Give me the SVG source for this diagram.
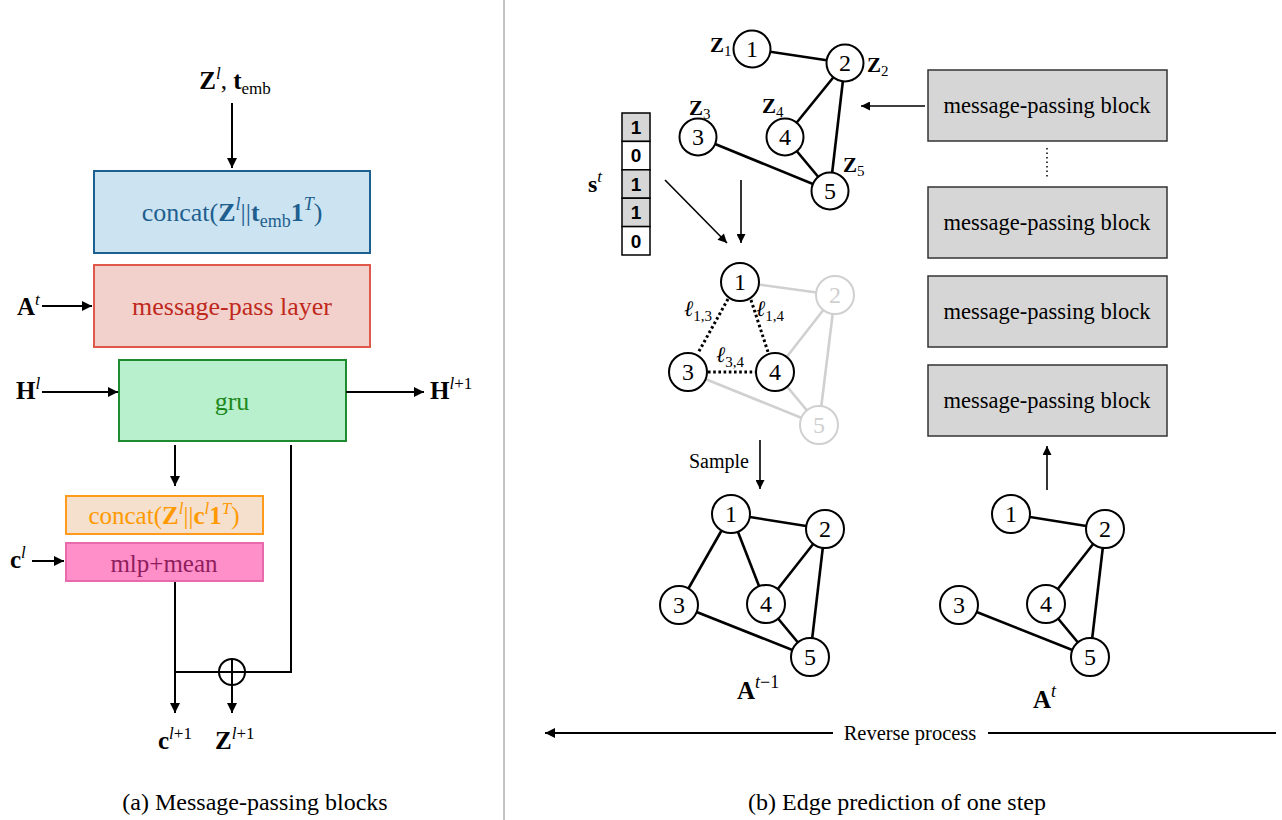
<svg xmlns="http://www.w3.org/2000/svg" width="1282" height="820" viewBox="0 0 1282 820">
<style>
.t{font-family:"Liberation Serif","Times New Roman",serif;fill:#000}
.b{font-weight:bold}
.i{font-style:italic}
.ln{stroke:#000;stroke-width:2;fill:none}
.ln2{stroke:#000;stroke-width:1.6;fill:none}
.e{stroke:#000;stroke-width:2.6}
.eg{stroke:#d0d0d0;stroke-width:2.6}
.ed{stroke:#000;stroke-width:3;stroke-dasharray:2.6 2.6}
.nd{fill:#fff;stroke:#000;stroke-width:2}
.ndg{fill:#fff;stroke:#d0d0d0;stroke-width:2}
.nt{font-family:"Liberation Serif","Times New Roman",serif;font-size:24px;text-anchor:middle}
.mp{fill:#d6d6d6;stroke:#333;stroke-width:1.5}
.vc{font-family:"Liberation Sans",Arial,sans-serif;font-weight:bold;font-size:19px;text-anchor:middle}
</style>
<defs>
<marker id="ah" viewBox="0 0 10 10" refX="10" refY="5" markerWidth="12" markerHeight="10" markerUnits="userSpaceOnUse" orient="auto"><path d="M0,0 L10,5 L0,10 z" fill="#000"/></marker>
<marker id="ahs" viewBox="0 0 10 10" refX="10" refY="5" markerWidth="11" markerHeight="9" markerUnits="userSpaceOnUse" orient="auto"><path d="M0,0 L10,5 L0,10 z" fill="#000"/></marker>
</defs>

<!-- divider -->
<line x1="504" y1="0" x2="504" y2="820" stroke="#888" stroke-width="1"/>

<!-- ===== Left panel ===== -->
<text class="t" x="235" y="89" font-size="25" text-anchor="middle"><tspan class="b">Z</tspan><tspan class="i" font-size="17" dy="-10">l</tspan><tspan dy="10">, </tspan><tspan class="b">t</tspan><tspan font-size="17" dy="5">emb</tspan></text>

<g id="concat1">
<rect x="94" y="171" width="276" height="82" fill="#cce4f1" stroke="#1d5f8e" stroke-width="2"/>
<text class="t" x="232" y="221" font-size="26" text-anchor="middle" style="fill:#1f5f8f">concat(<tspan class="b">Z</tspan><tspan class="i" font-size="18" dy="-11">l</tspan><tspan dy="11">||</tspan><tspan class="b">t</tspan><tspan font-size="18" dy="6">emb</tspan><tspan class="b" dy="-6">1</tspan><tspan class="i" font-size="18" dy="-11">T</tspan><tspan dy="11">)</tspan></text>
</g>

<g id="mpl">
<rect x="94" y="265" width="276" height="82" fill="#f2d1cc" stroke="#e0584a" stroke-width="2"/>
<text class="t" x="232" y="315" font-size="26" text-anchor="middle" style="fill:#c0281c">message-pass layer</text>
</g>

<g id="gru">
<rect x="119" y="360" width="227" height="81" fill="#b8efcc" stroke="#1e8b2e" stroke-width="2"/>
<text class="t" x="232" y="410" font-size="26" text-anchor="middle" style="fill:#1e8a1e">gru</text>
</g>

<g id="concat2">
<rect x="66" y="496" width="197" height="38" fill="#f5dfcd" stroke="#ff9a1a" stroke-width="2"/>
<text class="t" x="164" y="524" font-size="25" text-anchor="middle" style="fill:#ff9a00">concat(<tspan class="b">Z</tspan><tspan class="i" font-size="17" dy="-10">l</tspan><tspan dy="10">||</tspan><tspan class="b">c</tspan><tspan class="i" font-size="17" dy="-10">l</tspan><tspan class="b" dy="10">1</tspan><tspan class="i" font-size="17" dy="-10">T</tspan><tspan dy="10">)</tspan></text>
</g>

<g id="mlp">
<rect x="66" y="543" width="197" height="38" fill="#ff8fc8" stroke="#e86aac" stroke-width="2"/>
<text class="t" x="164" y="572" font-size="25" text-anchor="middle" style="fill:#8e1d5e">mlp+mean</text>
</g>

<g id="plus">
<circle cx="232" cy="672" r="13" fill="#fff" stroke="#000" stroke-width="2"/>
<line x1="220" y1="672" x2="244" y2="672" stroke="#000" stroke-width="2"/>
<line x1="232" y1="660" x2="232" y2="684" stroke="#000" stroke-width="2"/>
</g>

<g id="left-labels">
<text class="t" x="17" y="315" font-size="25"><tspan class="b">A</tspan><tspan class="i" font-size="17" dy="-10">t</tspan></text>
<text class="t" x="16" y="399" font-size="25"><tspan class="b">H</tspan><tspan class="i" font-size="17" dy="-10">l</tspan></text>
<text class="t" x="430" y="399" font-size="25"><tspan class="b">H</tspan><tspan class="i" font-size="17" dy="-10">l</tspan><tspan font-size="17">+1</tspan></text>
<text class="t" x="10" y="568" font-size="25"><tspan class="b">c</tspan><tspan class="i" font-size="17" dy="-10">l</tspan></text>
<text class="t" x="158" y="749" font-size="25"><tspan class="b">c</tspan><tspan class="i" font-size="17" dy="-10">l</tspan><tspan font-size="17">+1</tspan></text>
<text class="t" x="215" y="749" font-size="25"><tspan class="b">Z</tspan><tspan class="i" font-size="17" dy="-10">l</tspan><tspan font-size="17">+1</tspan></text>
<text class="t" x="255" y="810" font-size="24" text-anchor="middle">(a) Message-passing blocks</text>
</g>

<g id="left-connectors">
<line class="ln" x1="232" y1="103" x2="232" y2="168" marker-end="url(#ah)"/>
<line class="ln" x1="42" y1="306" x2="92" y2="306" marker-end="url(#ah)"/>
<line class="ln" x1="42" y1="392" x2="118" y2="392" marker-end="url(#ah)"/>
<line class="ln" x1="346" y1="392" x2="424" y2="392" marker-end="url(#ah)"/>
<line class="ln" x1="175" y1="445" x2="175" y2="486" marker-end="url(#ah)"/>
<line class="ln" x1="32" y1="561" x2="64" y2="561" marker-end="url(#ah)"/>
<polyline class="ln" points="291,445 291,672 245,672"/>
<line class="ln" x1="175" y1="672" x2="219" y2="672"/>
<line class="ln" x1="175" y1="582" x2="175" y2="713" marker-end="url(#ah)"/>
<line class="ln" x1="232" y1="685" x2="232" y2="713" marker-end="url(#ah)"/>
</g>

<!-- ===== Right panel ===== -->
<g id="graph-top">
<line class="e" x1="752" y1="49" x2="845" y2="63"/>
<line class="e" x1="845" y1="63" x2="785" y2="137"/>
<line class="e" x1="845" y1="63" x2="830" y2="191"/>
<line class="e" x1="785" y1="137" x2="830" y2="191"/>
<line class="e" x1="698" y1="137" x2="830" y2="191"/>
<circle class="nd" cx="752" cy="49" r="18.5"/><text class="nt" x="752" y="57">1</text>
<circle class="nd" cx="845" cy="63" r="18.5"/><text class="nt" x="845" y="71">2</text>
<circle class="nd" cx="698" cy="137" r="18.5"/><text class="nt" x="698" y="145">3</text>
<circle class="nd" cx="785" cy="137" r="18.5"/><text class="nt" x="785" y="145">4</text>
<circle class="nd" cx="830" cy="191" r="18.5"/><text class="nt" x="830" y="199">5</text>
<text class="t" x="710" y="52" font-size="21"><tspan class="b">Z</tspan><tspan font-size="15" dy="4">1</tspan></text>
<text class="t" x="867" y="72" font-size="21"><tspan class="b">Z</tspan><tspan font-size="15" dy="4">2</tspan></text>
<text class="t" x="689" y="115" font-size="21"><tspan class="b">Z</tspan><tspan font-size="15" dy="4">3</tspan></text>
<text class="t" x="762" y="113" font-size="21"><tspan class="b">Z</tspan><tspan font-size="15" dy="4">4</tspan></text>
<text class="t" x="843" y="172" font-size="21"><tspan class="b">Z</tspan><tspan font-size="15" dy="4">5</tspan></text>
</g>

<g id="s-vector">
<rect x="622" y="113" width="28" height="28.4" fill="#d6d6d6" stroke="#000" stroke-width="1.5"/>
<rect x="622" y="141.4" width="28" height="28.4" fill="#fff" stroke="#000" stroke-width="1.5"/>
<rect x="622" y="169.8" width="28" height="28.4" fill="#d6d6d6" stroke="#000" stroke-width="1.5"/>
<rect x="622" y="198.2" width="28" height="28.4" fill="#d6d6d6" stroke="#000" stroke-width="1.5"/>
<rect x="622" y="226.6" width="28" height="28.4" fill="#fff" stroke="#000" stroke-width="1.5"/>
<text class="vc" x="636" y="134">1</text>
<text class="vc" x="636" y="162">0</text>
<text class="vc" x="636" y="191">1</text>
<text class="vc" x="636" y="219">1</text>
<text class="vc" x="636" y="248">0</text>
<text class="t" x="588" y="192" font-size="24"><tspan class="b">s</tspan><tspan class="i" font-size="17" dy="-10">t</tspan></text>
</g>

<g id="graph-mid">
<line class="eg" x1="740" y1="282" x2="835" y2="295"/>
<line class="eg" x1="835" y1="295" x2="775" y2="372"/>
<line class="eg" x1="835" y1="295" x2="819" y2="425"/>
<line class="eg" x1="775" y1="372" x2="819" y2="425"/>
<line class="eg" x1="688" y1="372" x2="819" y2="425"/>
<line class="ed" x1="728" y1="299" x2="698" y2="353"/>
<line class="ed" x1="751" y1="300" x2="768" y2="352"/>
<line class="ed" x1="708" y1="372" x2="756" y2="372"/>
<circle class="nd" cx="740" cy="282" r="19"/><text class="nt" x="740" y="290">1</text>
<circle class="ndg" cx="835" cy="295" r="19"/><text class="nt" x="835" y="303" fill="#d0d0d0">2</text>
<circle class="nd" cx="688" cy="372" r="19"/><text class="nt" x="688" y="380">3</text>
<circle class="nd" cx="775" cy="372" r="19"/><text class="nt" x="775" y="380">4</text>
<circle class="ndg" cx="819" cy="425" r="19"/><text class="nt" x="819" y="433" fill="#d0d0d0">5</text>
<text class="t i" x="684" y="316" font-size="22">ℓ<tspan font-style="normal" font-size="15" dy="5">1,3</tspan></text>
<text class="t i" x="756" y="316" font-size="22">ℓ<tspan font-style="normal" font-size="15" dy="5">1,4</tspan></text>
<text class="t i" x="716" y="362" font-size="22">ℓ<tspan font-style="normal" font-size="15" dy="5">3,4</tspan></text>
<text class="t" x="689" y="468" font-size="20">Sample</text>
</g>

<g id="graph-prev">
<line class="e" x1="731" y1="514" x2="825" y2="529"/>
<line class="e" x1="731" y1="514" x2="679" y2="605"/>
<line class="e" x1="731" y1="514" x2="766" y2="604"/>
<line class="e" x1="825" y1="529" x2="766" y2="604"/>
<line class="e" x1="825" y1="529" x2="810" y2="657"/>
<line class="e" x1="766" y1="604" x2="810" y2="657"/>
<line class="e" x1="679" y1="605" x2="810" y2="657"/>
<circle class="nd" cx="731" cy="514" r="19"/><text class="nt" x="731" y="522">1</text>
<circle class="nd" cx="825" cy="529" r="19"/><text class="nt" x="825" y="537">2</text>
<circle class="nd" cx="679" cy="605" r="19"/><text class="nt" x="679" y="613">3</text>
<circle class="nd" cx="766" cy="604" r="19"/><text class="nt" x="766" y="612">4</text>
<circle class="nd" cx="810" cy="657" r="19"/><text class="nt" x="810" y="665">5</text>
<text class="t" x="737" y="699" font-size="25"><tspan class="b">A</tspan><tspan class="i" font-size="18" dy="-11">t</tspan><tspan font-size="18">−1</tspan></text>
</g>

<g id="graph-cur">
<line class="e" x1="1011" y1="514" x2="1105" y2="529"/>
<line class="e" x1="1105" y1="529" x2="1046" y2="604"/>
<line class="e" x1="1105" y1="529" x2="1090" y2="657"/>
<line class="e" x1="1046" y1="604" x2="1090" y2="657"/>
<line class="e" x1="959" y1="605" x2="1090" y2="657"/>
<circle class="nd" cx="1011" cy="514" r="19"/><text class="nt" x="1011" y="522">1</text>
<circle class="nd" cx="1105" cy="529" r="19"/><text class="nt" x="1105" y="537">2</text>
<circle class="nd" cx="959" cy="605" r="19"/><text class="nt" x="959" y="613">3</text>
<circle class="nd" cx="1046" cy="604" r="19"/><text class="nt" x="1046" y="612">4</text>
<circle class="nd" cx="1090" cy="657" r="19"/><text class="nt" x="1090" y="665">5</text>
<text class="t" x="1033" y="708" font-size="25"><tspan class="b">A</tspan><tspan class="i" font-size="18" dy="-11">t</tspan></text>
</g>

<g id="mp-blocks">
<rect class="mp" x="928" y="70" width="239" height="71"/>
<text class="t" x="1047" y="113" font-size="22.5" text-anchor="middle">message-passing block</text>
<rect class="mp" x="928" y="187" width="239" height="71"/>
<text class="t" x="1047" y="230" font-size="22.5" text-anchor="middle">message-passing block</text>
<rect class="mp" x="928" y="276" width="239" height="71"/>
<text class="t" x="1047" y="319" font-size="22.5" text-anchor="middle">message-passing block</text>
<rect class="mp" x="928" y="365" width="239" height="71"/>
<text class="t" x="1047" y="408" font-size="22.5" text-anchor="middle">message-passing block</text>
<line x1="1047" y1="148" x2="1047" y2="178" stroke="#000" stroke-width="1.5" stroke-dasharray="1.5 3"/>
</g>

<g id="right-connectors">
<line class="ln2" x1="925" y1="106" x2="861" y2="106" marker-end="url(#ahs)"/>
<line class="ln2" x1="665" y1="180" x2="727" y2="243" marker-end="url(#ahs)"/>
<line class="ln2" x1="741" y1="180" x2="741" y2="243" marker-end="url(#ahs)"/>
<line class="ln2" x1="760" y1="440" x2="760" y2="489" marker-end="url(#ahs)"/>
<line class="ln2" x1="1047" y1="490" x2="1047" y2="446" marker-end="url(#ahs)"/>
<line class="ln" x1="833" y1="733" x2="545" y2="733" marker-end="url(#ah)"/>
<line class="ln" x1="988" y1="733" x2="1276" y2="733"/>
</g>

<text class="t" x="910" y="740" font-size="20.5" text-anchor="middle">Reverse process</text>
<text class="t" x="897" y="810" font-size="24" text-anchor="middle">(b) Edge prediction of one step</text>
</svg>
